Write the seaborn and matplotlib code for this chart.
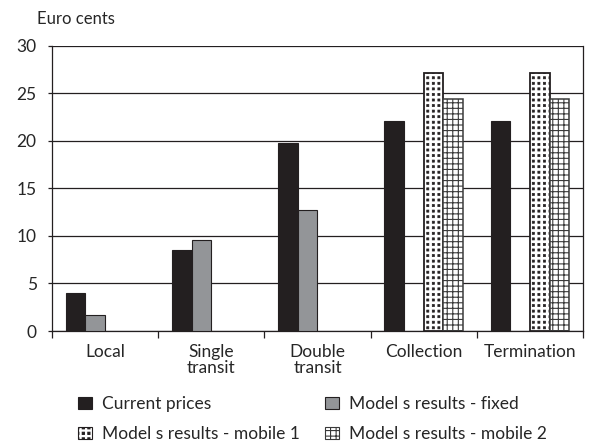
import matplotlib
matplotlib.use("Agg")
import matplotlib.pyplot as plt
import seaborn as sns
import pandas as pd
import numpy as np
from matplotlib.patches import Patch
from matplotlib import hatch as mhatch
from matplotlib.path import Path

categories = ["Local", "Single\ntransit", "Double\ntransit", "Collection", "Termination"]
series = ["Current prices", "Model s results - fixed",
          "Model s results - mobile 1", "Model s results - mobile 2"]
current_prices = [4.0, 8.5, 19.8, 22.1, 22.1]
fixed_results = [1.7, 9.6, 12.7, np.nan, np.nan]
mobile1_results = [np.nan, np.nan, np.nan, 27.2, 27.2]
mobile2_results = [np.nan, np.nan, np.nan, 24.4, 24.4]
y_ticks = [0, 5, 10, 15, 20, 25, 30]


class GridDots(mhatch.HatchPatternBase):
    """Aligned grid of small filled squares (hatch char 'd')."""
    def __init__(self, hatch, density):
        self.num_rows = hatch.count('d') * density
        self.size = 0.38
        sq = Path.unit_rectangle()
        self.shape_vertices = sq.vertices - 0.5
        self.shape_codes = sq.codes
        n = self.num_rows
        self.num_vertices = (n + 1) ** 2 * len(self.shape_vertices) if n else 0

    def set_vertices_and_codes(self, vertices, codes):
        n = self.num_rows
        offset = 1.0 / n
        sv = self.shape_vertices * offset * self.size
        vparts, cparts = [], []
        pos = np.linspace(0, 1, n + 1)
        for r in pos:
            for c in pos:
                vparts.append(sv + [c, r])
                cparts.append(self.shape_codes)
        np.concatenate(vparts, out=vertices)
        np.concatenate(cparts, out=codes)


mhatch._hatch_types.append(GridDots)

sns.set_style("white")
plt.rcParams['font.family'] = ['Lato', 'DejaVu Sans']
plt.rcParams['hatch.linewidth'] = 0.8

rows = []
for s, vals in zip(series, [current_prices, fixed_results, mobile1_results, mobile2_results]):
    for c, v in zip(categories, vals):
        rows.append({"category": c, "series": s, "value": v})
df = pd.DataFrame(rows)

fig = plt.figure(figsize=(5.94, 4.44), dpi=100)
ax = fig.add_axes([0.0875, 0.2545, 0.894, 0.642])

sns.barplot(data=df, x="category", y="value", hue="series", order=categories,
            hue_order=series, width=0.74, dodge=True, ax=ax, legend=False,
            errorbar=None, saturation=1)

styles = [
    dict(facecolor="#231f20", edgecolor="#231f20", hatch=None, lw=0.8, hlw=0.8),
    dict(facecolor="#939598", edgecolor="#231f20", hatch=None, lw=0.8, hlw=0.8),
    dict(facecolor="white", edgecolor="#231f20", hatch="ddd", lw=1.3, hlw=0.5),
    dict(facecolor="white", edgecolor="#3a3a3a", hatch="+++", lw=1.1, hlw=0.8),
]
for cont, st in zip(ax.containers, styles):
    for p in cont:
        p.set_facecolor(st["facecolor"])
        p.set_edgecolor(st["edgecolor"])
        p.set_linewidth(st["lw"])
        if st["hatch"]:
            p.set_hatch(st["hatch"])
            if hasattr(p, "set_hatch_linewidth"):
                p.set_hatch_linewidth(st["hlw"])
        p.set_zorder(3)

ax.set_ylim(0, 30)
ax.set_xlim(-0.5, len(categories) - 0.5)
ax.set_yticks(y_ticks)
ax.set_yticklabels([str(t) for t in y_ticks], fontsize=12.5)
ax.yaxis.grid(True, color="#231f20", linewidth=0.9)
ax.set_axisbelow(True)
ax.tick_params(axis="y", length=3, width=0.9, color="#231f20", pad=8, direction="out", left=True)

ax.set_xticks(range(len(categories)))
ax.set_xticklabels(categories, fontsize=12.5, va="top", linespacing=1.05)
ax.tick_params(axis="x", length=0, pad=9)
ax.set_xticks(np.arange(-0.5, len(categories), 1.0), minor=True)
ax.tick_params(axis="x", which="minor", length=5, width=0.9, color="#231f20", direction="out", bottom=True)

for side in ["left", "right", "bottom"]:
    ax.spines[side].set_visible(True)
    ax.spines[side].set_color("#231f20")
    ax.spines[side].set_linewidth(0.9)
ax.spines["top"].set_visible(False)
ax.set_xlabel("")
ax.set_ylabel("")

fig.text(0.062, 0.958, "Euro cents", fontsize=12, va="center", ha="left")

handles = []
for s, st in zip(series, styles):
    h = Patch(facecolor=st["facecolor"], edgecolor=st["edgecolor"],
              hatch=st["hatch"], linewidth=0.8, label=s)
    if st["hatch"] and hasattr(h, "set_hatch_linewidth"):
        h.set_hatch_linewidth(st["hlw"])
    handles.append(h)
order = [0, 2, 1, 3]
fig.legend([handles[i] for i in order], [series[i] for i in order],
           ncol=2, loc="upper left", bbox_to_anchor=(0.131, 0.108), frameon=False,
           fontsize=12.5, handlelength=0.8, handleheight=0.75, handletextpad=0.6,
           columnspacing=1.45, labelspacing=0.8, borderpad=0, borderaxespad=0)

fig.savefig("out.png", dpi=100)
